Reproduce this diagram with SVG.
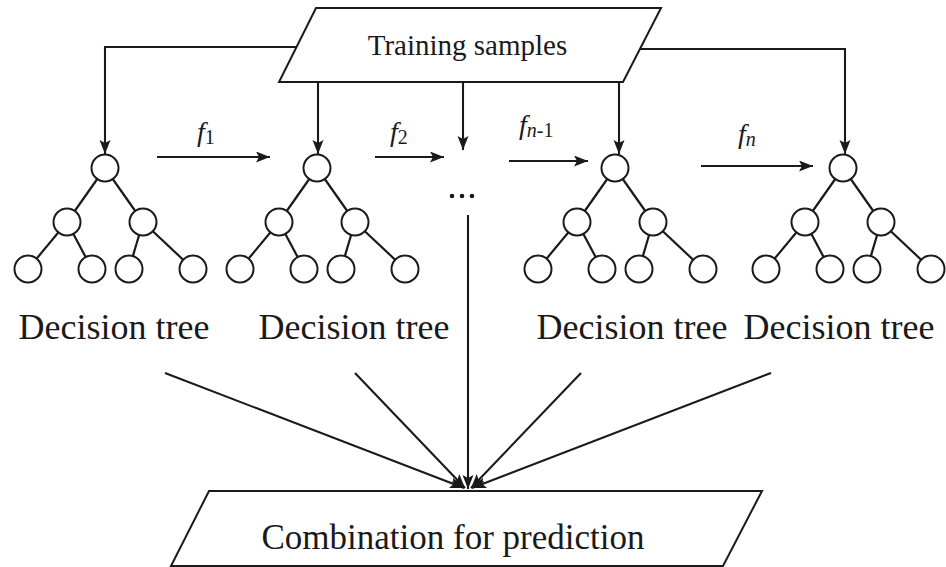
<svg xmlns="http://www.w3.org/2000/svg" xmlns:xlink="http://www.w3.org/1999/xlink" width="946" height="567" viewBox="0 0 946 567">
<style>
.shape{fill:#fff;stroke:#1a1a1a;stroke-width:2}
.edge{stroke:#1a1a1a;stroke-width:2.2;fill:none}
.conn{stroke:#1a1a1a;stroke-width:2.1;fill:none}
.node{fill:#fff;stroke:#1a1a1a;stroke-width:2}
.lbl{font-family:"Liberation Serif","Times New Roman",serif;fill:#1a1a1a}
.fl{font-family:"Liberation Serif","Times New Roman",serif;fill:#1a1a1a;font-size:28px}
</style>
<defs>
<marker id="arr" markerUnits="userSpaceOnUse" markerWidth="16" markerHeight="12" refX="14" refY="5.5" orient="auto">
<path d="M0,0 L14,5.5 L0,11 L3,5.5 z" fill="#1a1a1a"/>
</marker>
<g id="tree">
<line class="edge" x1="0" y1="0" x2="-38" y2="54"/>
<line class="edge" x1="0" y1="0" x2="38" y2="54"/>
<line class="edge" x1="-38" y1="54" x2="-77" y2="101"/>
<line class="edge" x1="-38" y1="54" x2="-13" y2="101"/>
<line class="edge" x1="38" y1="54" x2="24" y2="101"/>
<line class="edge" x1="38" y1="54" x2="88" y2="101"/>
<circle class="node" cx="0" cy="0" r="13.5"/>
<circle class="node" cx="-38" cy="54" r="13.5"/>
<circle class="node" cx="38" cy="54" r="13.5"/>
<circle class="node" cx="-77" cy="101" r="13.5"/>
<circle class="node" cx="-13" cy="101" r="13.5"/>
<circle class="node" cx="24" cy="101" r="13.5"/>
<circle class="node" cx="88" cy="101" r="13.5"/>
</g>
</defs>
<rect width="946" height="567" fill="#fff"/>

<g id="connectors">
<polyline class="conn" points="296,47 105,47 105,154" marker-end="url(#arr)"/>
<polyline class="conn" points="639,49 845,49 845,154" marker-end="url(#arr)"/>
<line class="conn" x1="318" y1="82" x2="318" y2="154" marker-end="url(#arr)"/>
<line class="conn" x1="463" y1="82" x2="463" y2="150" marker-end="url(#arr)"/>
<line class="conn" x1="619" y1="82" x2="619" y2="154" marker-end="url(#arr)"/>
<line class="conn" x1="157" y1="157" x2="270" y2="157" marker-end="url(#arr)"/>
<line class="conn" x1="375" y1="157" x2="444" y2="157" marker-end="url(#arr)"/>
<line class="conn" x1="509" y1="161" x2="588" y2="161" marker-end="url(#arr)"/>
<line class="conn" x1="701" y1="166" x2="813" y2="166" marker-end="url(#arr)"/>
<line class="conn" x1="165" y1="373" x2="464" y2="488" marker-end="url(#arr)"/>
<line class="conn" x1="355" y1="373" x2="465" y2="488" marker-end="url(#arr)"/>
<line class="conn" x1="468" y1="215" x2="468" y2="489" marker-end="url(#arr)"/>
<line class="conn" x1="581" y1="373" x2="471" y2="488" marker-end="url(#arr)"/>
<line class="conn" x1="771" y1="373" x2="472" y2="488" marker-end="url(#arr)"/>
</g>

<g id="training-samples">
<polygon class="shape" points="316,8 661,8 623,82 279,82"/>
<text class="lbl" x="467.5" y="55" font-size="29" text-anchor="middle">Training samples</text>
</g>

<g id="tree1"><use xlink:href="#tree" x="105" y="168"/><text class="lbl" x="114" y="339" font-size="36" text-anchor="middle">Decision tree</text></g>
<g id="tree2"><use xlink:href="#tree" x="317" y="168"/><text class="lbl" x="354" y="339" font-size="36" text-anchor="middle">Decision tree</text></g>
<g id="ellipsis"><circle cx="452" cy="196" r="2.3" fill="#1a1a1a"/><circle cx="462" cy="196" r="2.3" fill="#1a1a1a"/><circle cx="472" cy="196" r="2.3" fill="#1a1a1a"/></g>
<g id="tree3"><use xlink:href="#tree" x="615" y="168"/><text class="lbl" x="632" y="339" font-size="36" text-anchor="middle">Decision tree</text></g>
<g id="tree4"><use xlink:href="#tree" x="843" y="168"/><text class="lbl" x="839" y="339" font-size="36" text-anchor="middle">Decision tree</text></g>

<g id="labels">
<text class="fl" x="197" y="141"><tspan font-style="italic">f</tspan><tspan font-size="20" dy="3">1</tspan></text>
<text class="fl" x="390" y="141"><tspan font-style="italic">f</tspan><tspan font-size="20" dy="3">2</tspan></text>
<text class="fl" x="519" y="134"><tspan font-style="italic">f</tspan><tspan font-size="20" dy="3" font-style="italic">n</tspan><tspan font-size="20">-1</tspan></text>
<text class="fl" x="738" y="143"><tspan font-style="italic">f</tspan><tspan font-size="20" dy="3" font-style="italic">n</tspan></text>
</g>

<g id="combination">
<polygon class="shape" points="209,491 762,491 723,566 171,566"/>
<text class="lbl" x="453" y="549" font-size="35" text-anchor="middle">Combination for prediction</text>
</g>
</svg>
